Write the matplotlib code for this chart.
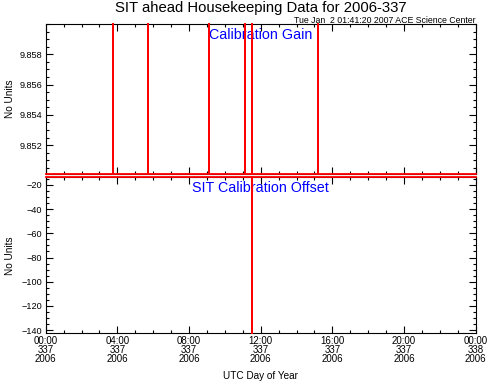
import numpy as np
import matplotlib
matplotlib.use("Agg")
import matplotlib.pyplot as plt
from matplotlib.ticker import MultipleLocator, FixedLocator

# data (hours of day 337)
gain_base = 9.8501
gain_spike_hours = [3.77, 5.69, 9.11, 11.12, 11.50, 15.18]
gain_spike_vals = [9.8600, 9.8600, 9.8600, 9.8600, 9.8600, 9.8600]

offset_base = -13.8
offset_spike_hours = [11.50]
offset_spike_vals = [-142.7]

tick_hours = [0, 4, 8, 12, 16, 20, 24]
tick_labels = ["00:00\n337\n2006", "04:00\n337\n2006", "08:00\n337\n2006",
               "12:00\n337\n2006", "16:00\n337\n2006", "20:00\n337\n2006",
               "00:00\n338\n2006"]


def series(base, hours, vals):
    t = [0.0]
    v = [base]
    for h, s in zip(hours, vals):
        t += [h, h, h]
        v += [base, s, base]
    t.append(24.0)
    v.append(base)
    return t, v


plt.rcParams['font.family'] = 'Liberation Sans'
fig = plt.figure(figsize=(4.89, 3.82), dpi=100)
ax1 = fig.add_axes([0.0935, 0.5445, 0.8793, 0.3927])
ax2 = fig.add_axes([0.0935, 0.1275, 0.8793, 0.4079])
xc = 0.0935 + 0.8793 / 2

t, v = series(gain_base, gain_spike_hours, gain_spike_vals)
ax1.plot(t, v, color='red', lw=1.3, clip_on=False, zorder=5)
ax1.set_ylim(9.8501, 9.8600)
ax1.yaxis.set_major_locator(FixedLocator([9.852, 9.854, 9.856, 9.858]))
ax1.yaxis.set_minor_locator(MultipleLocator(0.0005))
ax1.set_yticklabels(["9.852", "9.854", "9.856", "9.858"])
ax1.text(0.5, 0.925, "Calibration Gain", color='blue', fontsize=10.3,
         ha='center', va='center', transform=ax1.transAxes)

t, v = series(offset_base, offset_spike_hours, offset_spike_vals)
ax2.plot(t, v, color='red', lw=1.3, clip_on=False, zorder=5)
ax2.set_ylim(-142.7, -13.8)
ax2.yaxis.set_major_locator(MultipleLocator(20))
ax2.yaxis.set_minor_locator(MultipleLocator(5))
ax2.text(0.5, 0.93, "SIT Calibration Offset", color='blue', fontsize=10.3,
         ha='center', va='center', transform=ax2.transAxes)

for ax in (ax1, ax2):
    ax.set_xlim(0, 24)
    ax.xaxis.set_major_locator(FixedLocator(tick_hours))
    ax.xaxis.set_minor_locator(MultipleLocator(1))
    ax.tick_params(which='both', direction='in', top=True, right=True,
                   labelsize=7.0, width=0.8)
    ax.tick_params(axis='y', labelsize=6.6, pad=2.5)
    ax.tick_params(which='major', length=5)
    ax.tick_params(which='minor', length=2.5)
    ax.set_ylabel("No Units", fontsize=7.2)
    for s in ax.spines.values():
        s.set_linewidth(0.8)

ax1.set_xticklabels([])
ax2.set_xticklabels(tick_labels, linespacing=0.88)
ax2.tick_params(axis='x', pad=2)
ax1.yaxis.set_label_coords(-0.071, 0.5)
ax2.yaxis.set_label_coords(-0.071, 0.5)

fig.text(xc, 1 - 376 / 382, "UTC Day of Year", ha='center', va='center',
         fontsize=7.2)
fig.text(xc, 0.980, "SIT ahead Housekeeping Data for 2006-337",
         ha='center', va='center', fontsize=10.7)
fig.text(0.9728, 0.946, "Tue Jan  2 01:41:20 2007 ACE Science Center",
         ha='right', va='center', fontsize=6.3)

fig.savefig("out.png", dpi=100)
